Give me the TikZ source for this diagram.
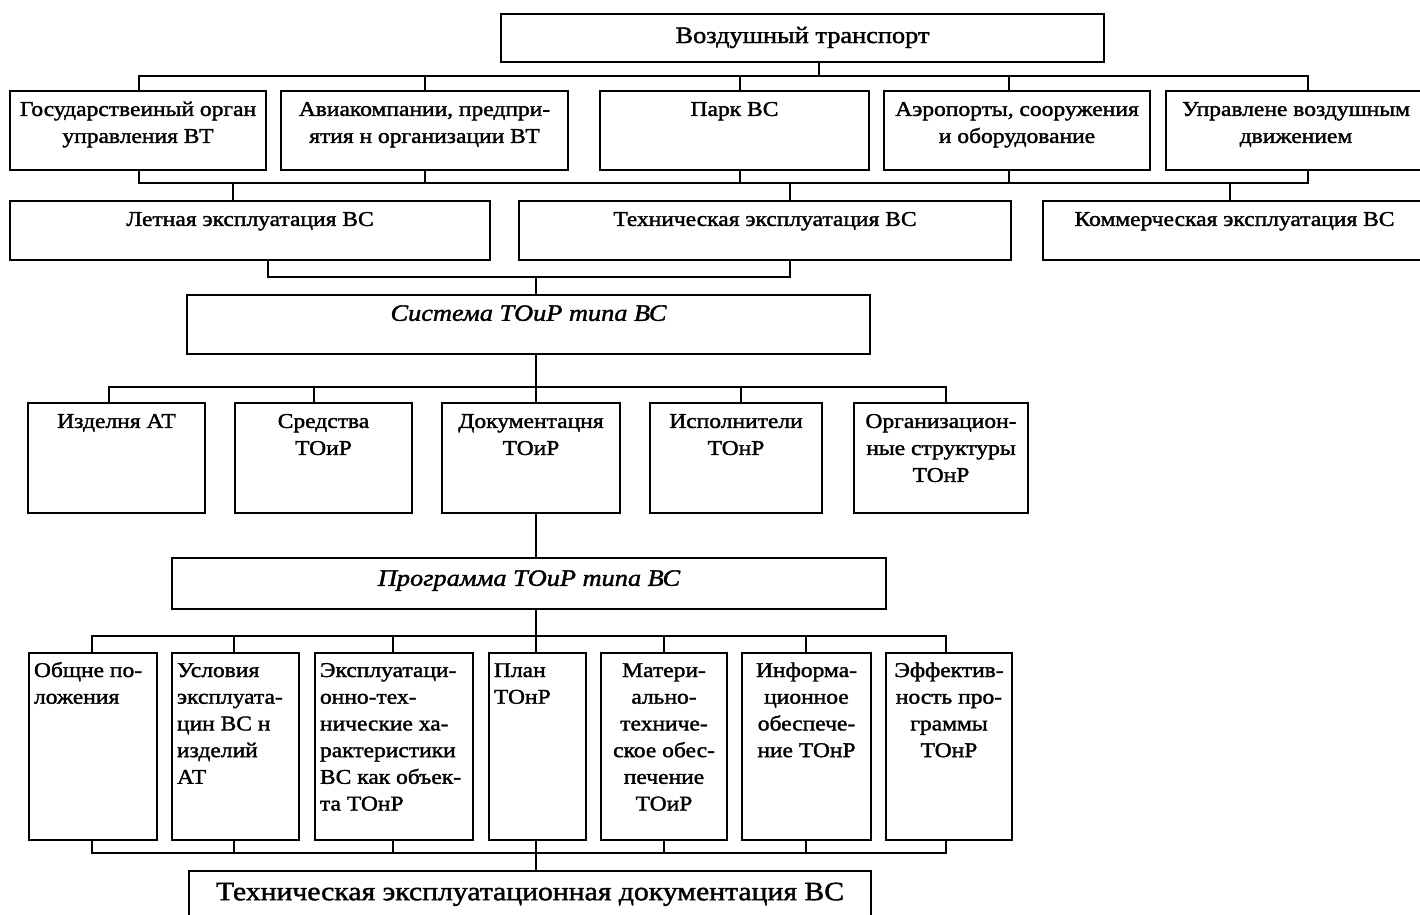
\documentclass[tikz,border=0pt]{standalone}
\usepackage{fontspec}
\setmainfont{Liberation Serif}[FakeStretch=1.12, FakeBold=1.6]
\newcommand\tb[4]{\parbox[c][#2][t]{#1}{\vskip#3\relax#4}}
\newcommand\fB{\fontsize{21}{27}\selectfont}
\newcommand\fC{\fontsize{21}{26.7}\selectfont}
\newcommand\lft{\raggedright\leftskip5pt\relax}
\tikzset{
  box/.style={draw, line width=2pt, inner sep=0pt, anchor=north west},
  ln/.style={line width=2.2pt, line join=miter},
}
\begin{document}
\begin{tikzpicture}[x=1pt, y={(0pt,-1pt)}]
\useasboundingbox (0,0) rectangle (1420,914);
% top
\node[box] (T) at (500,13) {\tb{603pt}{48pt}{9.4pt}{\centering\fontsize{23.5}{28}\selectfont\strut Воздушный транспорт}};
% row 2
\node[box] (A1) at (9,90) {\tb{256pt}{79pt}{6pt}{\centering\fB\strut Государствеиный орган\\ управления ВТ}};
\node[box] (A2) at (280,90) {\tb{287pt}{79pt}{6pt}{\centering\fB\strut Авиакомпании, предпри-\\ ятия н организации ВТ}};
\node[box] (A3) at (599,90) {\tb{269pt}{79pt}{6pt}{\centering\fB\strut Парк ВС}};
\node[box] (A4) at (883,90) {\tb{266pt}{79pt}{6pt}{\centering\fB\strut Аэропорты, сооружения\\ и оборудование}};
\node[box] (A5) at (1165,90) {\tb{260pt}{79pt}{6pt}{\centering\fB\strut Управлене воздушным\\ движением}};
% row 3
\node[box] (L) at (9,200) {\tb{480pt}{59pt}{6pt}{\centering\fB\strut Летная эксплуатация ВС}};
\node[box] (Tc) at (518,200) {\tb{492pt}{59pt}{6pt}{\centering\fB\strut Техническая эксплуатация ВС}};
\node[box] (K) at (1042,200) {\tb{383pt}{59pt}{6pt}{\centering\fB\strut Коммерческая эксплуатация ВС}};
% system
\node[box] (S) at (186,294) {\tb{683pt}{59pt}{6.2pt}{\centering\fontsize{23.5}{28}\selectfont\itshape\strut Система ТОиР типа ВС}};
% row 4
\node[box] (D1) at (27,402) {\tb{177pt}{110pt}{6pt}{\centering\fB\strut Изделня АТ}};
\node[box] (D2) at (234,402) {\tb{177pt}{110pt}{6pt}{\centering\fB\strut Средства\\ ТОиР}};
\node[box] (D3) at (441,402) {\tb{178pt}{110pt}{6pt}{\centering\fB\strut Документацня\\ ТОиР}};
\node[box] (D4) at (649,402) {\tb{172pt}{110pt}{6pt}{\centering\fB\strut Исполнители\\ ТОнР}};
\node[box] (D5) at (853,402) {\tb{174pt}{110pt}{6pt}{\centering\fB\strut Организацион-\\ ные структуры\\ ТОнР}};
% program
\node[box] (P) at (171,557) {\tb{714pt}{51pt}{8.2pt}{\centering\fontsize{23.5}{28}\selectfont\itshape\strut Программа ТОиР типа ВС}};
% row 5
\node[box] (E1) at (28,652) {\tb{128pt}{187pt}{5.3pt}{\lft\fC\strut Общне по-\\ ложения}};
\node[box] (E2) at (171,652) {\tb{127pt}{187pt}{5.3pt}{\lft\fC\strut Условия\\ эксплуата-\\ цин ВС н\\ изделий\\ АТ}};
\node[box] (E3) at (314,652) {\tb{158pt}{187pt}{5.3pt}{\lft\fC\strut Эксплуатаци-\\ онно-тех-\\ нические ха-\\ рактеристики\\ ВС как объек-\\ та ТОнР}};
\node[box] (E4) at (488,652) {\tb{97pt}{187pt}{5.3pt}{\lft\fC\strut План\\ ТОнР}};
\node[box] (E5) at (600,652) {\tb{126pt}{187pt}{5.3pt}{\centering\fC\strut Матери-\\ ально-\\ техниче-\\ ское обес-\\ печение\\ ТОиР}};
\node[box] (E6) at (741,652) {\tb{129pt}{187pt}{5.3pt}{\centering\fC\strut Информа-\\ ционное\\ обеспече-\\ ние ТОнР}};
\node[box] (E7) at (885,652) {\tb{126pt}{187pt}{5.3pt}{\centering\fC\strut Эффектив-\\ ность про-\\ граммы\\ ТОнР}};
% bottom
\node[box] (F) at (188,870) {\tb{682pt}{60pt}{6.8pt}{\centering\fontsize{26.5}{32}\selectfont\strut Техническая эксплуатационная документация ВС}};

% connectors: top bus
\coordinate (ta) at (139,76); \coordinate (tb) at (425,76); \coordinate (tc) at (740,76);
\coordinate (td) at (1009,76); \coordinate (te) at (1308,76); \coordinate (tt) at (819,76);
\draw[ln] (ta |- A1.north) -- (ta) -- (te) -- (te |- A5.north);
\draw[ln] (tt) -- (tt |- T.south);
\draw[ln] (tb) -- (tb |- A2.north);
\draw[ln] (tc) -- (tc |- A3.north);
\draw[ln] (td) -- (td |- A4.north);
% bus under row 2
\coordinate (ua) at (139,183); \coordinate (ue) at (1308,183);
\coordinate (ul) at (233,183); \coordinate (ut) at (790,183); \coordinate (uk) at (1230,183);
\draw[ln] (ua |- A1.south) -- (ua) -- (ue) -- (ue |- A5.south);
\draw[ln] (tb |- A2.south) -- (tb |- ua);
\draw[ln] (tc |- A3.south) -- (tc |- ua);
\draw[ln] (td |- A4.south) -- (td |- ua);
\draw[ln] (ul) -- (ul |- L.north);
\draw[ln] (ut) -- (ut |- Tc.north);
\draw[ln] (uk) -- (uk |- K.north);
% bus under row 3
\coordinate (va) at (268,277); \coordinate (vb) at (790,277); \coordinate (vs) at (536,277);
\draw[ln] (va |- L.south) -- (va) -- (vb) -- (vb |- Tc.south);
\draw[ln] (vs) -- (vs |- S.north);
% bus row 4
\coordinate (wa) at (109,387); \coordinate (wb) at (314,387); \coordinate (wc) at (536,387);
\coordinate (wd) at (741,387); \coordinate (we) at (946,387);
\draw[ln] (wa |- D1.north) -- (wa) -- (we) -- (we |- D5.north);
\draw[ln] (wc |- S.south) -- (wc |- D3.north);
\draw[ln] (wb) -- (wb |- D2.north);
\draw[ln] (wd) -- (wd |- D4.north);
\draw[ln] (D3.south -| wc) -- (P.north -| wc);
% bus row 5 top
\coordinate (xa) at (92,636); \coordinate (xb) at (234,636); \coordinate (xc) at (393,636);
\coordinate (xd) at (536,636); \coordinate (xe) at (664,636); \coordinate (xf) at (806,636);
\coordinate (xg) at (946,636);
\draw[ln] (xa |- E1.north) -- (xa) -- (xg) -- (xg |- E7.north);
\draw[ln] (xd |- P.south) -- (xd |- E4.north);
\draw[ln] (xb) -- (xb |- E2.north);
\draw[ln] (xc) -- (xc |- E3.north);
\draw[ln] (xe) -- (xe |- E5.north);
\draw[ln] (xf) -- (xf |- E6.north);
% bus row 5 bottom
\coordinate (ya) at (92,853); \coordinate (yg) at (946,853); \coordinate (yd) at (536,853);
\draw[ln] (xa |- E1.south) -- (ya) -- (yg) -- (xg |- E7.south);
\draw[ln] (xb |- E2.south) -- (xb |- ya);
\draw[ln] (xc |- E3.south) -- (xc |- ya);
\draw[ln] (xd |- E4.south) -- (xd |- F.north);
\draw[ln] (xe |- E5.south) -- (xe |- ya);
\draw[ln] (xf |- E6.south) -- (xf |- ya);
\end{tikzpicture}
\end{document}
